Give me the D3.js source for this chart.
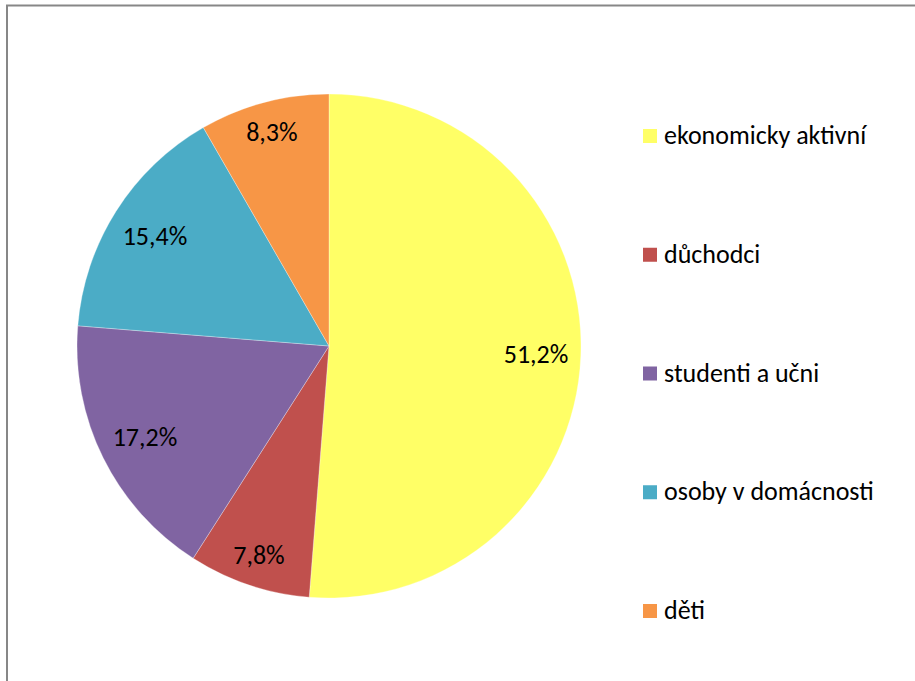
<!DOCTYPE html>
<html lang="cs">

<head>
    <meta charset="UTF-8">
    <title>Struktura obyvatel</title>

    <script src="https://d3js.org/d3.v7.min.js"></script>

    <style>
        body {
            margin: 0;
            background: #ffffff;
        }

        .pieLabel,
        .legendText {
            font-family: Carlito, Lato, "Open Sans", sans-serif;
            font-size: 26px;
            fill: #000000;
        }
    </style>

</head>

<body>
    <svg width="915" height="681"></svg>

    <script>
        const categories = ["ekonomicky aktivní", "důchodci", "studenti a učni", "osoby v domácnosti", "děti"];
        const shares = [51.2, 7.8, 17.2, 15.4, 8.3];
        const shareLabels = ["51,2%", "7,8%", "17,2%", "15,4%", "8,3%"];
        const sliceColors = ["#FFFF66", "#C0504D", "#8064A2", "#4BACC6", "#F79646"];

        let svg = d3.select("svg");

        // chart frame, runs off the right and bottom edge like in the original
        svg.append("rect")
            .attr("x", 7)
            .attr("y", 5.5)
            .attr("width", 1000)
            .attr("height", 800)
            .attr("fill", "none")
            .attr("stroke", "#878787")
            .attr("stroke-width", 2);

        const cx = 329, cy = 346, radius = 252;

        let pie = d3.pie().sort(null).value(function (d) { return d; });
        let arc = d3.arc().innerRadius(0).outerRadius(radius);
        let arcs = pie(shares);

        let g = svg.append("g").attr("transform", "translate(" + cx + "," + cy + ")");

        g.selectAll("path")
            .data(arcs)
            .enter()
            .append("path")
            .attr("d", arc)
            .attr("fill", function (d, i) { return sliceColors[i]; })
            .attr("stroke", "#ffffff")
            .attr("stroke-opacity", 0.5)
            .attr("stroke-width", 0.6);

        // labels placed "inside end": the text box is pushed out until it sits
        // a small gap inside the rim
        const labelGap = 12;
        let labels = g.selectAll("text")
            .data(arcs)
            .enter()
            .append("text")
            .attr("class", "pieLabel")
            .attr("text-anchor", "middle")
            .text(function (d, i) { return shareLabels[i]; });

        labels.each(function (d) {
            let w = this.getComputedTextLength();
            let h = 25;
            let a = (d.startAngle + d.endAngle) / 2;
            let sx = Math.sin(a), sy = -Math.cos(a);
            let inset = Math.abs(sy) * h / 2 + Math.abs(sx) * w / 2 + labelGap;
            let r = radius - inset;
            d3.select(this)
                .attr("x", sx * r)
                .attr("y", sy * r + 9);
        });

        // legend
        let legendY = d3.scalePoint()
            .domain(categories)
            .range([136, 611]);

        let legend = svg.append("g").attr("class", "legend")
            .selectAll("g")
            .data(categories)
            .enter()
            .append("g")
            .attr("transform", function (d) { return "translate(643," + legendY(d) + ")"; });

        legend.append("rect")
            .attr("x", 0)
            .attr("y", -7)
            .attr("width", 14)
            .attr("height", 14)
            .attr("fill", function (d, i) { return sliceColors[i]; });

        legend.append("text")
            .attr("class", "legendText")
            .attr("x", 21)
            .attr("y", 8)
            .text(function (d) { return d; });
    </script>
</body>

</html>
